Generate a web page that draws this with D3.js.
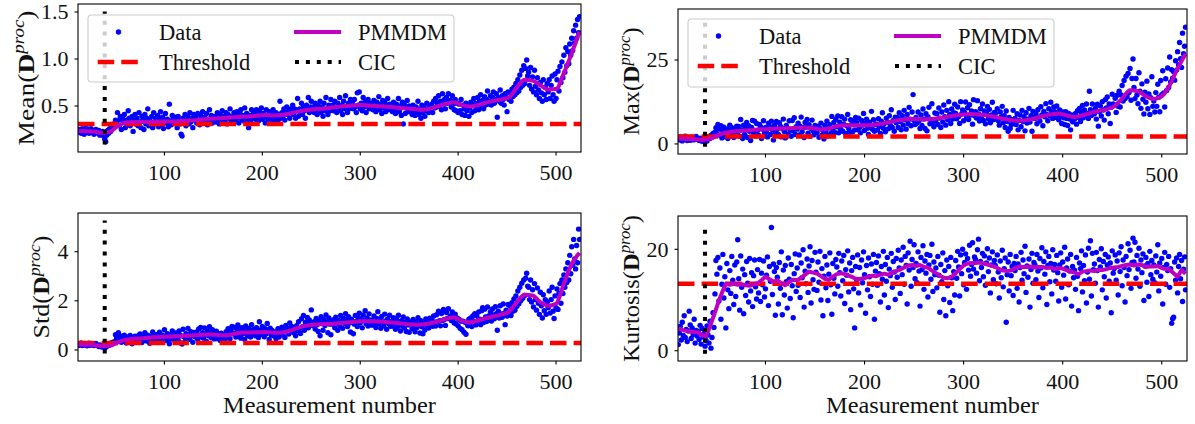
<!DOCTYPE html>
<html><head><meta charset="utf-8">
<script src="https://cdn.jsdelivr.net/npm/d3@7"></script>
<style>
body{margin:0;background:#fff}
svg{display:block}
text{font-family:"Liberation Serif","Times New Roman",serif;fill:#111}
</style>
</head><body>
<svg id="c" width="1195" height="424"></svg>
<script>
// ---------------- data ----------------
const firstMeasurement = 12;   // rows of 20 consecutive measurements
const rowLength = 20;
const xTicks = [100, 200, 300, 400, 500];
const cicMeasurement = 39;
const legendLabels = ["Data", "Threshold", "PMMDM", "CIC"];
const xLabel = "Measurement number";

const meanTicks = [0.5, 1.0, 1.5];
const maxTicks = [0, 25];
const stdTicks = [0, 2, 4];
const kurtTicks = [0, 20];

const meanThreshold = 0.31, maxThreshold = 2.2, stdThreshold = 0.28, kurtThreshold = 13.2;

const meanData = [
[.25,.22,.24,.21,.26,.23,.20,.24,.27,.22,.25,.21,.23,.26,.22,.24,.20,.23,.25,.22],
[.21,.24,.19,.22,.20,.23,.18,.15,.12,.19,.24,.21,.26,.23,.28,.27,.31,.29,.35,.33],
[.43,.35,.29,.39,.25,.37,.33,.41,.27,.35,.31,.45,.37,.29,.33,.39,.23,.35,.41,.31],
[.37,.29,.43,.33,.27,.39,.35,.25,.41,.31,.37,.47,.29,.35,.33,.39,.27,.43,.31,.37],
[.32,.40,.28,.36,.44,.30,.38,.26,.34,.42,.32,.36,.28,.52,.34,.30,.40,.36,.32,.38],
[.33,.27,.39,.35,.31,.20,.18,.37,.33,.41,.29,.35,.39,.31,.43,.33,.37,.27,.41,.35],
[.38,.32,.42,.34,.30,.40,.36,.44,.32,.38,.34,.42,.30,.36,.46,.34,.40,.32,.38,.36],
[.39,.33,.43,.35,.31,.41,.37,.45,.33,.39,.35,.43,.31,.41,.37,.47,.35,.39,.33,.43],
[.40,.34,.44,.38,.32,.42,.46,.36,.40,.34,.48,.38,.42,.36,.27,.40,.34,.46,.38,.42],
[.42,.36,.46,.38,.34,.44,.40,.48,.36,.42,.38,.32,.46,.40,.36,.44,.38,.42,.34,.46],
[.39,.35,.43,.37,.33,.41,.55,.37,.43,.39,.47,.35,.43,.49,.41,.45,.37,.47,.43,.51],
[.41,.47,.37,.45,.58,.39,.47,.43,.53,.41,.49,.45,.37,.51,.47,.59,.43,.49,.55,.45],
[.49,.43,.53,.45,.41,.51,.47,.55,.43,.49,.39,.53,.45,.59,.47,.41,.51,.45,.57,.49],
[.51,.45,.55,.47,.43,.53,.49,.59,.45,.51,.41,.55,.47,.61,.49,.43,.53,.47,.57,.51],
[.53,.47,.57,.49,.43,.64,.51,.65,.47,.53,.45,.59,.49,.55,.43,.51,.57,.47,.53,.49],
[.52,.46,.56,.48,.44,.54,.50,.60,.46,.52,.42,.56,.48,.54,.44,.50,.58,.46,.52,.48],
[.50,.44,.54,.46,.42,.52,.48,.58,.44,.50,.40,.54,.31,.52,.42,.48,.56,.44,.50,.46],
[.47,.41,.51,.43,.40,.49,.45,.55,.41,.47,.37,.51,.43,.49,.39,.45,.53,.47,.43,.49],
[.46,.52,.43,.55,.48,.58,.49,.53,.61,.50,.55,.46,.63,.52,.57,.47,.59,.53,.63,.54],
[.56,.49,.61,.52,.46,.57,.45,.53,.43,.52,.45,.57,.41,.51,.47,.40,.53,.45,.50,.39],
[.48,.54,.43,.52,.58,.45,.53,.49,.59,.46,.55,.62,.50,.56,.47,.60,.51,.57,.66,.52],
[.55,.61,.51,.59,.65,.53,.57,.63,.38,.59,.55,.67,.53,.61,.57,.51,.63,.59,.44,.65],
[.57,.64,.55,.68,.60,.70,.62,.74,.64,.78,.66,.83,.70,.88,.72,.93,.74,.90,.99,.82],
[.86,.72,.91,.68,.81,.65,.88,.71,.62,.80,.67,.58,.75,.64,.55,.78,.62,.70,.57,.74],
[.65,.78,.58,.72,.82,.62,.55,.84,.58,.78,.87,.66,.92,.75,.97,.80,1.04,.86,1.12,.93],
[1.08,.95,1.16,1.04,1.22,1.09,1.30,1.17,1.36,1.22,1.42,1.28,1.45]
];

const maxData = [
[1.8,1.2,2.1,1.5,0.9,1.7,1.3,2.3,1.6,1.0,1.9,1.4,1.1,2.0,1.5,1.2,1.8,1.3,2.2,1.6],
[1.4,1.0,1.7,1.2,0.8,1.5,1.1,0.6,1.3,0.9,1.8,2.2,1.6,2.5,2.0,3.1,2.6,3.5,4.8,3.0],
[5.8,4.4,2.6,5.4,1.8,3.9,5.0,2.2,3.5,4.5,1.6,3.8,5.6,2.4,4.8,3.0,1.9,4.3,3.6,5.3],
[3.6,5.2,2.3,7.3,4.2,1.6,5.6,2.8,4.6,6.4,1.9,5.4,3.8,1.0,4.9,7.0,3.3,6.8,2.4,6.1],
[4.0,2.6,5.8,5.1,1.6,4.4,6.9,3.2,4.9,3.7,2.1,6.2,5.3,2.8,6.8,4.2,1.2,5.6,3.5,6.7],
[4.4,2.8,6.3,5.3,2.1,4.6,7.4,3.7,1.8,5.5,4.8,3.0,6.9,4.1,2.3,7.0,3.9,7.8,2.8,5.1],
[4.4,6.2,2.7,5.3,8.0,3.6,4.8,1.9,6.4,5.0,7.3,3.2,5.7,2.3,4.6,7.1,3.9,2.7,5.5,4.1],
[3.4,5.3,2.0,4.6,6.2,2.6,4.0,1.5,5.5,3.6,6.8,2.4,4.8,5.7,3.1,8.2,4.3,6.4,3.4,7.3],
[5.1,8.3,3.3,6.5,4.4,8.1,3.8,5.9,7.4,3.1,5.4,8.8,4.6,3.5,7.2,5.8,3.6,6.8,4.2,7.9],
[6.3,4.2,7.7,4.9,3.3,7.0,5.6,9.1,4.0,6.1,7.4,4.7,2.8,6.5,5.4,9.7,4.4,7.2,3.8,5.8],
[5.9,4.2,7.5,5.2,3.1,6.8,9.3,4.7,6.1,3.6,7.7,6.5,4.5,8.4,5.6,10.2,4.9,7.0,3.8,8.0],
[6.3,7.9,4.9,9.3,6.7,4.2,8.4,5.6,10.0,7.2,4.4,8.8,6.0,10.9,7.4,5.4,9.5,14.7,7.0,5.8],
[7.9,6.2,9.5,6.9,4.6,8.6,5.5,10.4,7.4,4.6,9.0,3.9,8.1,10.9,6.0,7.2,12.0,6.5,5.1,9.2],
[7.0,9.0,5.8,10.7,7.7,4.9,9.5,6.5,11.6,8.1,5.6,10.0,7.2,12.6,8.8,6.1,10.4,7.4,9.3,11.8],
[9.1,7.5,11.0,8.2,6.1,12.6,8.9,10.1,6.9,9.4,12.5,8.0,10.8,7.3,11.7,8.6,9.8,5.9,13.2,8.4],
[9.6,7.7,12.9,8.9,6.8,10.5,7.9,11.9,7.0,9.8,6.0,9.2,11.2,7.5,10.3,6.3,8.6,12.4,7.2,9.4],
[9.1,7.5,10.5,6.9,5.6,9.5,8.1,11.2,6.3,8.4,4.9,9.8,6.7,3.8,7.9,4.6,5.7,7.2,10.0,6.1],
[7.6,5.8,9.0,4.2,7.0,8.6,5.1,10.0,6.7,8.1,3.9,9.3,6.2,7.4,10.6,6.5,8.4,3.8,9.7,7.9],
[7.6,9.1,6.0,10.2,8.0,6.8,11.1,8.6,5.4,9.7,8.1,12.0,8.8,6.9,10.5,8.4,12.4,9.6,7.6,11.0],
[9.6,7.9,11.3,8.9,7.2,10.1,8.2,6.1,9.5,7.8,5.8,9.6,7.6,5.5,9.1,7.4,4.2,8.6,6.6,8.1],
[7.4,9.1,5.9,9.9,7.9,10.6,6.7,9.4,11.5,7.8,10.1,8.6,11.9,9.1,7.6,15.7,10.2,8.5,11.9,9.3],
[9.0,10.6,7.4,11.8,5.3,9.6,11.3,8.3,12.6,10.1,7.1,13.2,10.7,14.0,9.0,11.9,6.1,10.9,14.8,11.9],
[11.5,13.6,9.4,14.5,11.2,15.7,11.0,14.6,17.4,12.8,18.9,13.5,20.2,14.1,21.0,15.3,22.5,13.0,19.5,25.3],
[16.8,13.5,19.5,14.6,12.0,21.2,15.7,10.6,17.9,13.3,8.9,15.4,12.4,18.7,10.5,14.9,8.8,13.8,20.0,11.2],
[12.8,9.5,15.3,11.2,17.8,13.9,9.6,18.9,14.7,21.8,15.2,11.0,19.4,15.9,22.6,16.8,25.9,18.5,22.1,19.6],
[21.5,19.0,24.8,22.0,27.5,23.6,30.2,25.4,22.8,33.0,26.9,29.1,34.8]
];

const stdData = [
[.25,.19,.23,.28,.18,.21,.26,.20,.24,.17,.22,.27,.19,.23,.21,.25,.18,.22,.26,.20],
[.18,.14,.20,.16,.12,.17,.13,.09,.11,.15,.20,.18,.24,.22,.29,.27,.33,.31,.62,.45],
[.62,.70,.39,.57,.31,.50,.35,.60,.44,.28,.53,.40,.34,.59,.45,.25,.48,.37,.56,.42],
[.44,.57,.33,.65,.47,.30,.53,.40,.70,.45,.36,.60,.49,.27,.55,.42,.73,.47,.38,.62],
[.48,.63,.36,.72,.52,.32,.60,.42,.82,.50,.38,.66,.54,.25,.61,.45,.77,.52,.40,.69],
[.53,.68,.40,.77,.30,.58,.24,.84,.54,.35,.66,.50,.88,.56,.43,.74,.61,.31,.71,.54],
[.56,.73,.43,.85,.60,.92,.53,.70,.48,.90,.62,.35,.77,.58,.95,.67,.50,.82,.65,.45],
[.59,.76,.46,.66,.53,.38,.68,.48,.34,.61,.44,.74,.54,.86,.64,.46,.78,.96,.66,.93],
[.68,.53,.86,1.02,.60,.76,.48,.91,.65,.80,.43,.98,.71,.58,.88,.73,.53,1.03,.68,.83],
[.74,.58,.91,.69,.51,1.15,.81,.64,.96,.71,.54,.86,.66,1.08,.76,.43,.89,.61,.79,.69],
[.57,.73,.46,.66,.86,.53,.76,.61,.93,.68,.81,.51,1.00,.73,.88,.65,1.10,.81,.96,.76],
[.70,.88,.58,.99,.78,1.15,.86,.67,1.27,.95,1.40,.80,1.13,.97,1.32,.90,1.22,1.05,1.63,1.10],
[.98,1.15,.85,1.28,1.03,.75,1.20,.58,1.35,1.08,.80,1.23,1.00,1.42,1.13,.70,1.30,1.05,.62,1.18],
[1.05,1.23,.90,1.33,1.10,.80,1.20,1.00,1.40,1.13,.88,1.28,1.08,1.48,1.18,.95,1.35,1.10,.73,1.25],
[1.12,.66,1.05,1.40,1.17,.95,1.32,1.50,1.10,1.25,.90,1.42,1.20,1.60,1.07,1.30,.97,1.47,1.22,1.02],
[1.21,1.01,1.38,1.11,.91,1.28,1.56,1.06,1.23,.88,1.36,1.14,.98,1.46,1.18,.84,1.26,1.08,1.41,.96],
[1.16,.97,1.31,1.04,.84,1.24,.94,1.41,1.09,.77,1.19,.99,1.34,.89,1.12,.75,1.26,1.02,.72,1.14],
[1.06,.87,1.24,.97,.74,1.14,.91,1.31,1.02,.69,1.19,.94,.66,1.09,.81,1.26,1.00,1.16,.89,1.29],
[1.10,1.28,.96,1.38,1.14,.97,1.43,1.15,1.58,1.19,.98,1.48,1.20,1.65,1.24,1.00,1.52,1.28,1.68,1.30],
[1.38,1.20,1.55,1.27,1.10,1.46,1.06,1.30,.98,1.24,.88,1.18,.82,1.17,.72,1.13,.64,1.08,.98,1.25],
[1.10,1.30,.95,1.38,1.17,1.48,1.02,1.40,1.20,1.55,1.25,1.03,1.60,1.72,1.12,1.66,1.34,1.16,1.75,1.38],
[1.35,1.55,1.18,1.67,1.42,1.27,1.76,1.48,.80,1.58,1.30,1.80,1.47,1.33,1.87,1.49,1.03,1.62,1.38,1.85],
[1.48,1.78,1.40,1.92,1.58,2.08,1.62,2.20,1.78,2.40,1.88,2.55,2.00,2.72,2.10,2.85,2.22,2.92,3.12,2.60],
[2.55,2.05,2.85,1.95,2.45,1.75,2.70,2.05,1.62,2.52,1.90,1.45,2.35,1.80,1.30,2.25,1.60,2.05,1.45,1.95],
[1.72,2.40,1.50,2.05,2.55,1.58,1.28,2.20,1.72,2.48,1.65,2.30,2.70,1.90,2.85,2.30,3.05,2.55,3.30,2.75],
[3.55,2.85,3.85,3.10,4.20,3.45,4.50,3.70,3.30,4.25,3.55,4.92,4.50]
];

const kurtData = [
[1.2,3.5,4.8,2.1,5.6,3.0,6.9,2.6,4.2,1.8,3.9,7.8,5.1,2.4,4.5,3.2,6.2,1.5,4.0,2.9],
[3.8,2.2,5.0,1.3,4.4,2.7,3.4,0.9,2.0,4.9,3.1,1.5,5.8,0.5,2.6,7.5,4.6,11.2,17.8,15.1],
[18.4,9.8,16.3,6.2,13.1,19.0,10.4,14.6,4.5,17.2,12.0,8.3,15.8,11.3,18.6,13.9,9.1,16.9,10.7,17.5],
[21.9,14.2,8.0,18.7,12.5,16.1,7.3,15.0,10.9,17.6,13.3,9.6,18.2,11.8,15.4,8.7,14.8,17.9,12.6,10.2],
[16.0,11.4,18.0,9.7,15.3,13.0,17.7,10.6,12.2,14.9,18.5,8.9,16.6,13.7,24.3,11.1,17.1,15.6,7.0,16.4],
[14.5,9.2,17.4,12.3,19.5,7.1,15.9,11.0,16.8,13.6,8.4,18.3,14.1,10.3,17.0,12.8,6.5,15.2,19.1,11.7],
[16.3,12.9,18.9,10.5,17.3,14.4,19.9,8.6,15.7,13.2,18.1,11.5,16.7,20.5,9.4,17.8,14.0,12.1,19.4,15.5],
[11.9,17.5,13.5,19.6,10.0,16.2,6.9,14.7,18.6,12.4,16.9,9.9,15.1,19.3,13.0,7.2,17.2,14.3,11.2,18.0],
[16.5,12.7,19.2,15.4,10.8,17.7,13.8,18.8,9.3,16.0,14.9,19.7,11.6,17.3,8.1,15.8,18.4,12.2,4.5,16.6],
[14.0,18.9,11.4,16.4,9.0,17.9,13.4,19.5,15.0,7.4,16.8,12.0,18.3,14.6,10.7,17.1,13.1,19.0,6.2,15.7],
[17.4,12.9,18.7,15.2,9.6,16.6,14.1,19.6,11.0,17.0,13.7,18.4,8.5,16.1,14.8,19.2,12.5,17.6,15.5,10.1],
[18.2,14.5,19.8,16.3,11.3,17.9,15.0,20.4,13.1,18.6,16.8,9.2,19.3,15.9,21.6,12.7,18.0,16.4,20.9,14.2],
[17.2,13.4,19.5,15.7,8.8,18.4,16.0,20.7,12.1,17.7,15.3,19.0,10.6,16.9,18.8,14.1,21.0,11.7,17.5,15.0],
[16.3,12.4,18.6,14.9,7.6,17.0,13.6,19.3,10.1,15.8,6.9,17.9,12.8,16.6,9.5,18.4,14.4,7.9,15.6,11.0],
[17.8,14.3,19.6,16.5,10.8,18.9,15.2,20.0,13.0,17.4,19.1,12.1,18.2,15.9,20.8,14.7,17.0,21.3,16.1,18.5],
[18.0,15.3,19.9,22.0,13.8,17.6,16.4,19.2,14.6,18.7,12.9,17.3,20.1,15.6,18.3,11.4,16.9,19.5,14.0,17.8],
[16.8,13.2,18.9,15.5,10.4,17.7,14.4,19.8,12.6,16.2,18.3,5.6,15.0,17.5,11.8,19.0,14.8,16.6,10.9,17.2],
[15.8,18.6,12.3,17.1,9.6,16.4,19.4,13.9,17.9,15.2,20.6,11.5,16.7,14.5,18.1,8.6,16.0,19.2,13.3,17.4],
[16.9,14.0,19.0,15.7,10.5,18.2,16.3,20.3,12.4,17.6,15.1,19.5,9.1,16.8,18.6,13.6,17.2,11.2,19.9,15.9],
[17.0,13.7,18.8,15.4,9.8,16.9,19.3,12.5,17.5,14.9,20.4,10.2,16.3,18.1,13.0,15.7,19.0,8.8,16.6,14.4],
[15.9,12.1,18.4,14.7,7.9,17.3,16.2,19.7,11.6,16.8,13.8,18.9,9.4,15.5,20.2,14.1,21.7,10.8,19.2,16.0],
[17.1,13.3,19.4,15.8,8.6,18.0,16.5,20.1,12.0,17.6,14.6,19.0,10.4,16.9,18.5,13.7,17.3,7.5,19.7,15.3],
[16.2,18.9,13.9,17.7,11.0,19.3,15.6,20.5,12.8,17.9,16.4,9.6,18.6,14.8,21.1,16.0,19.8,12.3,17.4,22.2],
[17.5,21.4,14.3,18.8,16.1,20.2,12.7,17.9,15.4,19.1,9.9,16.7,18.4,13.5,17.2,10.7,19.6,15.0,17.8,14.1],
[16.9,13.4,18.7,15.5,20.9,11.8,17.3,14.7,18.2,9.2,16.4,19.4,13.1,17.0,15.8,18.6,12.5,16.2,5.4,6.3],
[6.6,17.5,13.9,18.3,11.4,16.6,19.0,14.2,17.8,9.7,16.1,18.5,12.0]
];

// PMMDM curves: smooth ones sampled every 8 measurements, kurtosis every 4
const pmmdmX8 = d3.range(12, 525, 8);
const pmmdmX4 = d3.range(12, 525, 4);
const meanPMMDM = [.235,.232,.228,.215,.225,.285,.325,.33,.33,.33,
 .335,.335,.335,.34,.345,.35,.36,.365,.37,.375,
 .38,.385,.39,.40,.405,.40,.405,.42,.44,.455,
 .465,.47,.48,.49,.50,.505,.51,.505,.50,.495,
 .49,.48,.475,.465,.46,.475,.50,.525,.54,.51,
 .495,.51,.535,.555,.57,.59,.70,.78,.77,.72,
 .675,.68,.85,1.06,1.29];
const maxPMMDM = [1.6,1.5,1.4,1.2,1.6,2.6,3.4,3.7,3.9,4.1,
 4.3,4.4,4.5,4.6,4.7,4.8,4.9,4.7,4.3,4.6,
 5.3,5.6,5.6,5.6,5.6,5.8,6.2,6.7,7.1,7.4,
 7.4,7.3,7.4,7.7,8.1,8.5,8.8,8.9,8.8,8.5,
 8.0,7.5,7.1,6.9,7.1,7.6,8.3,8.8,9.1,8.5,
 8.0,8.5,9.2,9.8,10.3,11.2,13.5,16.0,15.7,14.2,
 13.4,14.2,17.5,22.5,26.8];
const stdPMMDM = [.22,.21,.20,.16,.17,.30,.41,.45,.47,.50,
 .52,.54,.55,.56,.58,.60,.62,.63,.60,.60,
 .66,.71,.71,.72,.73,.70,.71,.78,.90,.98,
 1.03,1.05,1.06,1.08,1.11,1.14,1.17,1.17,1.16,1.15,
 1.12,1.09,1.05,1.03,1.04,1.09,1.17,1.27,1.32,1.18,
 1.12,1.20,1.29,1.36,1.44,1.56,1.95,2.25,2.22,1.95,
 1.80,1.88,2.70,3.50,3.95];
const kurtPMMDM = [4.4,4.1,3.9,3.8,3.7,3.6,3.1,2.9,4.8,7.0,
 9.3,11.4,13.2,13.0,13.2,13.0,13.1,12.9,12.8,13.1,
 13.3,13.9,14.6,14.1,13.6,13.9,13.3,12.9,13.6,14.0,
 13.9,14.4,15.0,15.6,15.4,15.2,14.7,14.2,14.0,14.6,
 15.1,15.3,15.1,14.8,14.5,14.1,14.2,14.3,14.6,14.8,
 14.7,15.0,15.2,15.0,15.4,15.7,16.0,16.4,16.8,16.9,
 16.7,16.9,16.5,16.4,15.8,15.3,14.8,14.4,14.3,14.6,
 15.3,16.1,16.8,17.2,17.3,17.3,17.4,17.2,17.0,16.8,
 16.5,16.1,15.8,15.7,15.8,16.3,16.6,16.5,16.5,16.6,
 16.4,16.5,16.5,16.3,16.4,16.1,16.3,16.2,15.9,15.6,
 15.4,15.1,15.6,15.7,15.8,15.7,15.9,15.9,16.1,16.3,
 16.4,16.5,16.7,16.9,17.0,16.8,17.0,16.9,16.5,16.6,
 16.6,16.7,16.3,16.1,16.0,15.3,14.6,15.9,15.2];

// ---------------- layout ----------------
const xDomain = [11.7, 525.5];
const panels = [
  {name:"Mean", data:meanData, pmX:pmmdmX8, pm:meanPMMDM, smooth:true, thr:meanThreshold, ticks:meanTicks, fmt:d3.format(".1f"),
   yDomain:[0.011,1.585], box:[78,581,4,152], labX:33.5, labLen:135, legend:[88,15,366,67], xlab:false},
  {name:"Max", data:maxData, pmX:pmmdmX8, pm:maxPMMDM, smooth:true, thr:maxThreshold, ticks:maxTicks, fmt:d3.format("d"),
   yDomain:[-3.0,40.2], box:[678,1187,9,154], labX:639, labLen:108, legend:[688,19,366,68], xlab:false},
  {name:"Std", data:stdData, pmX:pmmdmX8, pm:stdPMMDM, smooth:true, thr:stdThreshold, ticks:stdTicks, fmt:d3.format("d"),
   yDomain:[-0.45,5.575], box:[78,581,213,361], labX:49, labLen:103, legend:null, xlab:true},
  {name:"Kurtosis", data:kurtData, pmX:pmmdmX4, pm:kurtPMMDM, smooth:false, thr:kurtThreshold, ticks:kurtTicks, fmt:d3.format("d"),
   yDomain:[-2.03,26.57], box:[678,1187,216,361], labX:639, labLen:147, legend:null, xlab:true}
];

const BLUE = "#0000ff", MAG = "#bf00bf", RED = "#ff0000";
const svg = d3.select("#c");
const defs = svg.append("defs");

function ylabel(g, p) {
  const cy = (p.box[2] + p.box[3]) / 2;
  const lg = g.append("g").attr("transform", `translate(${p.labX},${cy}) rotate(-90)`);
  const t = lg.append("text").attr("text-anchor", "middle").attr("font-size", 24);
  t.append("tspan").text(p.name + "(");
  t.append("tspan").attr("font-weight", "bold").text("D");
  t.append("tspan").attr("font-style", "italic").attr("font-size", 16.5).attr("dy", -9.5).text("proc");
  t.append("tspan").attr("dy", 9.5).text(")");
  const w = t.node().getBBox().width;
  if (w > 0) t.attr("transform", `scale(${p.labLen / w},1)`);
}

panels.forEach((p, i) => {
  const [x0, x1, y0, y1] = p.box;
  const x = d3.scaleLinear().domain(xDomain).range([x0, x1]);
  const y = d3.scaleLinear().domain(p.yDomain).range([y1, y0]);
  const g = svg.append("g");
  const cid = "clip" + i;
  defs.append("clipPath").attr("id", cid).append("rect")
    .attr("x", x0).attr("y", y0).attr("width", x1 - x0).attr("height", y1 - y0);
  const plot = g.append("g").attr("clip-path", `url(#${cid})`);

  const pts = p.data.flatMap((row, r) => row.map((v, j) => ({m: firstMeasurement + r * rowLength + j, v})));
  plot.append("g").selectAll("circle").data(pts).join("circle")
    .attr("cx", d => x(d.m)).attr("cy", d => y(d.v)).attr("r", 2.7).attr("fill", BLUE);

  plot.append("line").attr("x1", x0).attr("x2", x1).attr("y1", y(p.thr)).attr("y2", y(p.thr))
    .attr("stroke", RED).attr("stroke-width", 4.5).attr("stroke-dasharray", "16.5,7.1");

  const line = d3.line().x((d, k) => x(p.pmX[k])).y(d => y(d))
    .curve(p.smooth ? d3.curveMonotoneX : d3.curveLinear);
  plot.append("path").datum(p.pm).attr("d", line).attr("fill", "none")
    .attr("stroke", MAG).attr("stroke-width", 4).attr("stroke-linejoin", "round");

  const h = y1 - y0;
  plot.append("line").attr("x1", x(cicMeasurement)).attr("x2", x(cicMeasurement))
    .attr("y1", y1 - 0.05 * h).attr("y2", y0 + 0.05 * h)
    .attr("stroke", "#000").attr("stroke-width", 4).attr("stroke-dasharray", "4,6.9");

  g.append("rect").attr("x", x0).attr("y", y0).attr("width", x1 - x0).attr("height", y1 - y0)
    .attr("fill", "none").attr("stroke", "#000").attr("stroke-width", 1.1);

  xTicks.forEach(t => {
    g.append("line").attr("x1", x(t)).attr("x2", x(t)).attr("y1", y1).attr("y2", y1 + 3.5)
      .attr("stroke", "#000").attr("stroke-width", 1.1);
    g.append("text").attr("x", x(t)).attr("y", y1 + 27.5).attr("text-anchor", "middle")
      .attr("font-size", 22).text(t);
  });
  p.ticks.forEach(t => {
    g.append("line").attr("x1", x0 - 3.5).attr("x2", x0).attr("y1", y(t)).attr("y2", y(t))
      .attr("stroke", "#000").attr("stroke-width", 1.1);
    g.append("text").attr("x", x0 - 9.5).attr("y", y(t) + 7.3).attr("text-anchor", "end")
      .attr("font-size", 22).text(p.fmt(t));
  });

  ylabel(g, p);

  if (p.xlab) {
    const t = g.append("text").attr("text-anchor", "middle").attr("font-size", 24)
      .attr("transform", `translate(${(x0 + x1) / 2},413)`).text(xLabel);
    const w = t.node().getBBox().width;
    if (w > 0) t.attr("transform", `translate(${(x0 + x1) / 2},413) scale(${213 / w},1)`);
  }

  if (p.legend) {
    const [lx, ly, lw, lh] = p.legend;
    const lg = g.append("g");
    lg.append("rect").attr("x", lx).attr("y", ly).attr("width", lw).attr("height", lh).attr("rx", 3.5)
      .attr("fill", "#fff").attr("fill-opacity", 0.8).attr("stroke", "#cccccc").attr("stroke-width", 1.1);
    const r1 = ly + 17, r2 = ly + 47;
    lg.append("circle").attr("cx", lx + 30.5).attr("cy", r1).attr("r", 2.7).attr("fill", BLUE);
    lg.append("line").attr("x1", lx + 9.7).attr("x2", lx + 53).attr("y1", r2).attr("y2", r2)
      .attr("stroke", RED).attr("stroke-width", 4.5).attr("stroke-dasharray", "16.5,7.1");
    lg.append("line").attr("x1", lx + 206).attr("x2", lx + 253).attr("y1", r1).attr("y2", r1)
      .attr("stroke", MAG).attr("stroke-width", 4);
    lg.append("line").attr("x1", lx + 207).attr("x2", lx + 253).attr("y1", r2).attr("y2", r2)
      .attr("stroke", "#000").attr("stroke-width", 4).attr("stroke-dasharray", "4,6.9");
    const pos = [[lx + 71, r1], [lx + 71, r2], [lx + 270, r1], [lx + 270, r2]];
    legendLabels.forEach((s, k) => {
      lg.append("text").attr("x", pos[k][0]).attr("y", pos[k][1] + 7.5).attr("font-size", 22.5).text(s);
    });
  }
});
</script>
</body></html>
